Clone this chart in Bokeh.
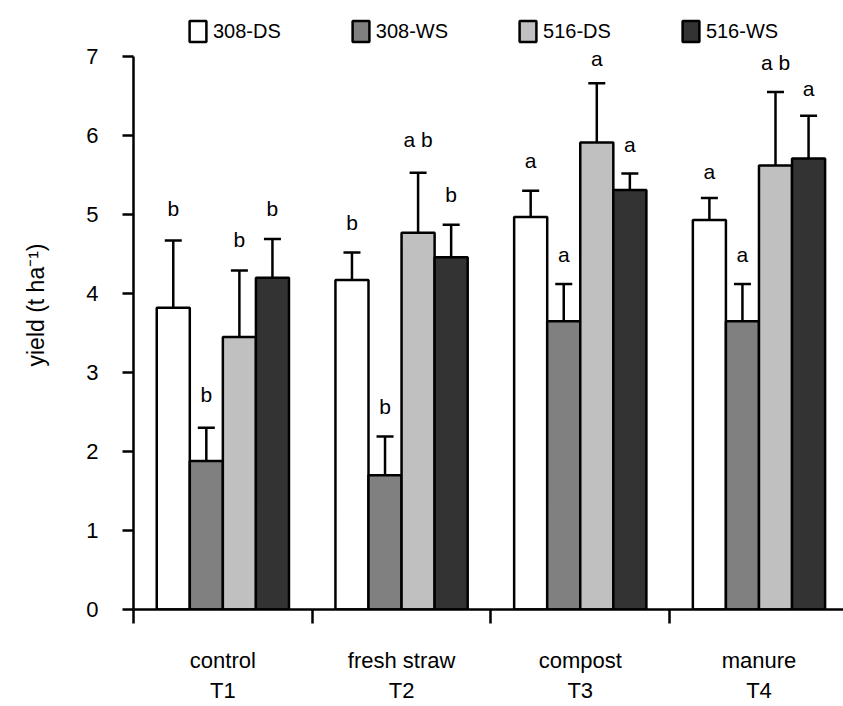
from bokeh.plotting import figure
from bokeh.models import ColumnDataSource, Whisker, TeeHead, FixedTicker, Legend, LegendItem, Range1d
from bokeh.core.properties import value
from bokeh.embed import file_html
from bokeh.resources import INLINE

treatments = ["control\nT1", "fresh straw\nT2", "compost\nT3", "manure\nT4"]
series_names = ["308-DS", "308-WS", "516-DS", "516-WS"]
colors = ["#ffffff", "#808080", "#c0c0c0", "#333333"]

mean_308DS = [3.82, 4.17, 4.97, 4.93]
mean_308WS = [1.88, 1.70, 3.65, 3.65]
mean_516DS = [3.45, 4.77, 5.91, 5.62]
mean_516WS = [4.20, 4.46, 5.31, 5.71]

err_308DS = [0.85, 0.35, 0.33, 0.28]
err_308WS = [0.42, 0.49, 0.47, 0.47]
err_516DS = [0.84, 0.76, 0.75, 0.93]
err_516WS = [0.49, 0.41, 0.21, 0.54]

letters_308DS = ["b", "b", "a", "a"]
letters_308WS = ["b", "b", "a", "a"]
letters_516DS = ["b", "a b", "a", "a b"]
letters_516WS = ["b", "b", "a", "a"]

letter_y_308DS = [5.08, 4.90, 5.68, 5.54]
letter_y_308WS = [2.72, 2.57, 4.49, 4.49]
letter_y_516DS = [4.68, 5.95, 6.97, 6.93]
letter_y_516WS = [5.08, 5.25, 5.88, 6.59]

y_ticks = [0, 1, 2, 3, 4, 5, 6, 7]

means = [mean_308DS, mean_308WS, mean_516DS, mean_516WS]
errs = [err_308DS, err_308WS, err_516DS, err_516WS]
letters = [letters_308DS, letters_308WS, letters_516DS, letters_516WS]
letter_ys = [letter_y_308DS, letter_y_308WS, letter_y_516DS, letter_y_516WS]

FONT = "Liberation Sans"
bar_w = 0.185
offsets = [-1.5 * bar_w, -0.5 * bar_w, 0.5 * bar_w, 1.5 * bar_w]

p = figure(width=843, height=706, output_backend="svg", toolbar_location=None,
           x_range=Range1d(0, 3.973), y_range=Range1d(0, 7.709),
           min_border_left=133, min_border_right=0, min_border_top=0, min_border_bottom=97)
p.outline_line_color = None
p.xgrid.grid_line_color = None
p.ygrid.grid_line_color = None
p.background_fill_color = "white"

items = []
for i in range(4):
    xs = [g + 0.5 + offsets[i] for g in range(4)]
    src = ColumnDataSource(dict(
        x=xs, top=means[i],
        upper=[m + e for m, e in zip(means[i], errs[i])],
        lower=[m - e for m, e in zip(means[i], errs[i])],
        txt=letters[i], ty=letter_ys[i]))
    r = p.vbar(x="x", top="top", width=bar_w, bottom=0, source=src,
               fill_color=colors[i], line_color="black", line_width=2.5)
    items.append(LegendItem(label=series_names[i], renderers=[r]))
    w = Whisker(source=src, base="x", upper="upper", lower="lower",
                line_color="black", line_width=2.5,
                upper_head=TeeHead(size=17, line_width=2.5, line_color="black"),
                lower_head=TeeHead(size=17, line_width=2.5, line_color="black"))
    p.add_layout(w)
    p.text(x="x", y="ty", text="txt", source=src, text_align="center",
           text_baseline="middle", text_font=value(FONT), text_font_size="21px",
           text_color="black")

legend = Legend(items=items, orientation="horizontal", location=(54, 565),
                border_line_color=None, background_fill_alpha=0,
                padding=0, margin=0, spacing=69, glyph_width=21, glyph_height=26,
                label_standoff=5, label_text_font=FONT, label_text_font_size="20px",
                label_text_color="black",
                label_height=26, label_text_baseline="middle")
p.add_layout(legend)

# x axis
xa = p.xaxis[0]
xa.ticker = FixedTicker(ticks=[0.5, 1.5, 2.5, 3.5], minor_ticks=[0, 1, 2, 3])
xa.major_label_overrides = {0.5: treatments[0], 1.5: treatments[1], 2.5: treatments[2], 3.5: treatments[3]}
xa.major_tick_out = 0
xa.major_tick_in = 0
xa.minor_tick_out = 14
xa.minor_tick_in = 0
xa.minor_tick_line_width = 2.5
xa.minor_tick_line_color = "black"
xa.axis_line_width = 2.5
xa.axis_line_color = "black"
xa.major_label_standoff = 24
xa.major_label_text_font = FONT
xa.major_label_text_font_size = "22px"
xa.major_label_text_color = "black"

# y axis
ya = p.yaxis[0]
ya.ticker = FixedTicker(ticks=y_ticks, minor_ticks=[])
ya.bounds = (0, 7)
ya.major_tick_out = 11
ya.major_tick_in = 0
ya.major_tick_line_width = 2.5
ya.major_tick_line_color = "black"
ya.axis_line_width = 2.5
ya.axis_line_color = "black"
ya.major_label_standoff = 24
ya.major_label_text_font = FONT
ya.major_label_text_font_size = "22px"
ya.major_label_text_color = "black"
ya.axis_label = "yield (t ha\u207b\u00b9)"
ya.axis_label_text_font = FONT
ya.axis_label_text_font_size = "23px"
ya.axis_label_text_font_style = "normal"
ya.axis_label_text_color = "black"
ya.axis_label_standoff = 34

open("out.html", "w").write(file_html(p, INLINE))
